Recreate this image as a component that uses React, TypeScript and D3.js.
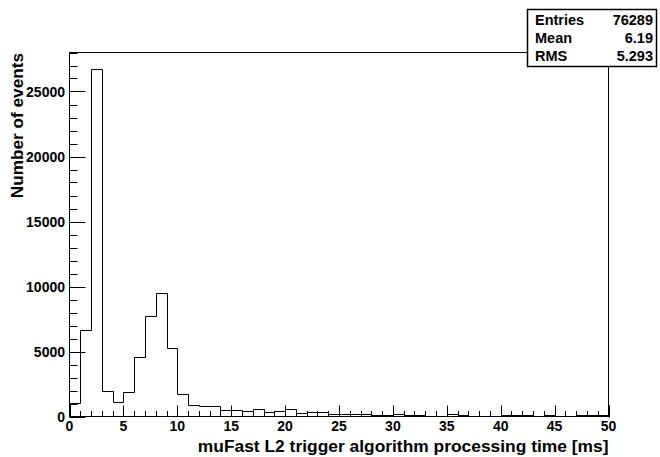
import { useEffect, useRef } from "react";
import { line, range, scaleLinear, select, curveLinear } from "d3";

// bin contents, 1 ms wide bins from 0 to 50 ms
const binCounts = [
  1050, 6650, 26700, 1950, 1100, 1850, 4570, 7730, 9470, 5260,
  1720, 920, 830, 820, 530, 500, 450, 600, 330, 410,
  540, 280, 330, 330, 180, 180, 180, 170, 120, 140,
  180, 140, 140, 60, 50, 170, 120, 50, 40, 40,
  150, 110, 110, 50, 130, 60, 50, 120, 110, 120,
];
const xMajorTicks = [0, 5, 10, 15, 20, 25, 30, 35, 40, 45, 50];
const yMajorTicks = [0, 5000, 10000, 15000, 20000, 25000];
const statLabels = ["Entries", "Mean", "RMS"];
const statValues = ["76289", "6.19", "5.293"];

const xTitle = "muFast L2 trigger algorithm processing time [ms]";
const yTitle = "Number of events";

const W = 660;
const H = 457;
const FONT = "'Liberation Sans', Arial, Helvetica, sans-serif";

export default function App() {
  const ref = useRef<SVGSVGElement>(null);

  useEffect(() => {
    const svg = select(ref.current);
    svg.selectAll("*").remove();

    const frameLeft = 69.5;
    const frameRight = 608.5;
    const frameTop = 52.5;
    const frameBottom = 416.5;

    const x = scaleLinear().domain([0, 50]).range([frameLeft, frameRight]);
    const y = scaleLinear().domain([0, 28000]).range([frameBottom, frameTop]);

    svg.append("rect")
      .attr("width", W).attr("height", H).attr("fill", "#fff");

    // frame
    svg.append("rect")
      .attr("x", frameLeft).attr("y", frameTop)
      .attr("width", frameRight - frameLeft)
      .attr("height", frameBottom - frameTop)
      .attr("fill", "none").attr("stroke", "#000").attr("stroke-width", 1);

    // histogram outline
    const pts: [number, number][] = [[0, 0]];
    binCounts.forEach((v, i) => {
      pts.push([i, v]);
      pts.push([i + 1, v]);
    });
    pts.push([binCounts.length, 0]);
    const histLine = line<[number, number]>()
      .x(d => Math.round(x(d[0])) + 0.5)
      .y(d => Math.round(y(d[1])) + 0.5)
      .curve(curveLinear);
    svg.append("path")
      .attr("d", histLine(pts))
      .attr("fill", "none").attr("stroke", "#000").attr("stroke-width", 1);

    // y axis ticks (inward)
    const yTicks = svg.append("g").attr("stroke", "#000").attr("stroke-width", 1);
    range(0, 28001, 1000).forEach(v => {
      const major = v % 5000 === 0;
      const yy = Math.round(y(v)) + 0.5;
      yTicks.append("line")
        .attr("x1", frameLeft).attr("x2", frameLeft + (major ? 16 : 8))
        .attr("y1", yy).attr("y2", yy);
    });
    svg.append("g")
      .selectAll("text")
      .data(yMajorTicks)
      .join("text")
      .attr("x", 65)
      .attr("y", d => y(d) + 5)
      .attr("text-anchor", "end")
      .attr("font-family", FONT).attr("font-weight", "bold").attr("font-size", 14)
      .text(d => d);

    // x axis ticks (inward)
    const xTicks = svg.append("g").attr("stroke", "#000").attr("stroke-width", 1);
    range(0, 51, 1).forEach(v => {
      const major = v % 5 === 0;
      const xx = Math.round(x(v)) + 0.5;
      xTicks.append("line")
        .attr("x1", xx).attr("x2", xx)
        .attr("y1", frameBottom).attr("y2", frameBottom - (major ? 11 : 5.5));
    });
    svg.append("g")
      .selectAll("text")
      .data(xMajorTicks)
      .join("text")
      .attr("x", d => x(d))
      .attr("y", 431)
      .attr("text-anchor", "middle")
      .attr("font-family", FONT).attr("font-weight", "bold").attr("font-size", 14)
      .text(d => d);

    // axis titles
    svg.append("text")
      .attr("x", frameRight).attr("y", 452)
      .attr("text-anchor", "end")
      .attr("font-family", FONT).attr("font-weight", "bold").attr("font-size", 17.4)
      .text(xTitle);
    svg.append("text")
      .attr("transform", "translate(23,53) rotate(-90)")
      .attr("text-anchor", "end")
      .attr("font-family", FONT).attr("font-weight", "bold").attr("font-size", 17.2)
      .text(yTitle);

    // stats box
    const stats = svg.append("g");
    stats.append("rect")
      .attr("x", 527.5).attr("y", 9.5).attr("width", 129).attr("height", 57)
      .attr("fill", "#fff").attr("stroke", "#000").attr("stroke-width", 1.5);
    statLabels.forEach((lab, i) => {
      const by = 25 + i * 18.2;
      stats.append("text")
        .attr("x", 535).attr("y", by)
        .attr("font-family", FONT).attr("font-weight", "bold").attr("font-size", 14.5)
        .text(lab);
      stats.append("text")
        .attr("x", 653).attr("y", by)
        .attr("text-anchor", "end")
        .attr("font-family", FONT).attr("font-weight", "bold").attr("font-size", 14.5)
        .text(statValues[i]);
    });
  }, []);

  return (
    <svg
      ref={ref}
      width={W}
      height={H}
      viewBox={`0 0 ${W} ${H}`}
      style={{ position: "absolute", left: 0, top: 0, display: "block" }}
    />
  );
}
